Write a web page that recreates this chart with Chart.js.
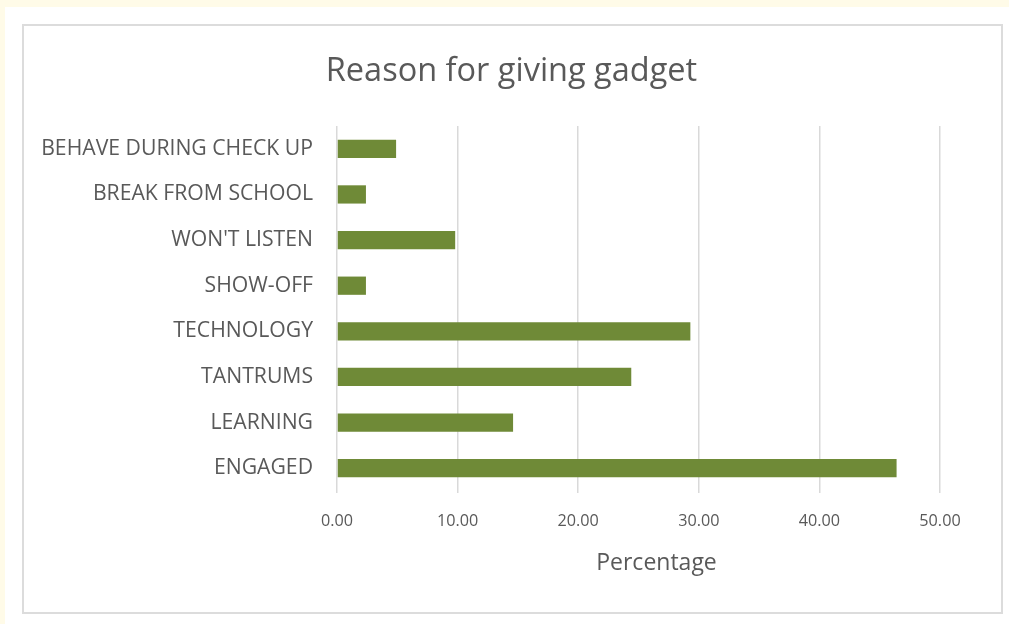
<!DOCTYPE html>
<html>
<head>
<meta charset="utf-8">
<script src="https://cdn.jsdelivr.net/npm/chart.js@4.4.1/dist/chart.umd.min.js"></script>
<style>
  html, body { margin: 0; padding: 0; }
  body { width: 1009px; height: 624px; background: #fffbe8; position: relative; overflow: hidden; }
  #sheet { position: absolute; left: 5px; top: 7px; right: 0; bottom: 0; background: #ffffff; }
  #frame { position: absolute; left: 22px; top: 24px; width: 977px; height: 586px; border: 2px solid #dcdcdc; background: #ffffff; filter: blur(0.5px); }
  #wrap { position: absolute; left: 0; top: 0; width: 1009px; height: 624px; }
  #chart { filter: blur(0.4px); }
</style>
</head>
<body>
<div id="sheet"></div>
<div id="frame"></div>
<div id="wrap"><canvas id="chart" width="1009" height="624"></canvas></div>
<script>
// Reasons parents give a gadget to their child, share of respondents (%)
const categories = [
  "BEHAVE DURING CHECK UP",
  "BREAK FROM SCHOOL",
  "WON'T LISTEN",
  "SHOW-OFF",
  "TECHNOLOGY",
  "TANTRUMS",
  "LEARNING",
  "ENGAGED"
];
const percentages = [4.9, 2.4, 9.8, 2.4, 29.3, 24.4, 14.6, 46.4];
const xTicks = [0, 10, 20, 30, 40, 50];
const chartTitle = "Reason for giving gadget";
const xAxisTitle = "Percentage";

const textColor = "#595959";
const gridColor = "#d9d9d9";
const barColor = "#6f8a37";
const fontFamily = "'Open Sans', 'Liberation Sans', sans-serif";

// Chart title is centred on the whole frame, the axis title sits a little
// right of the plot centre, so both are painted here instead of by the
// built-in title plugin / scale title.
const frameTexts = {
  id: "frameTexts",
  afterDraw(chart) {
    const { ctx, chartArea } = chart;
    ctx.save();
    ctx.fillStyle = textColor;
    ctx.textAlign = "center";
    ctx.textBaseline = "middle";
    ctx.font = "32.5px " + fontFamily;
    ctx.fillText(chartTitle, 511.5, 72);
    ctx.font = "23px " + fontFamily;
    ctx.fillText(xAxisTitle, (chartArea.left + chartArea.right) / 2 + 18, 563);
    ctx.restore();
  }
};

new Chart(document.getElementById("chart"), {
  type: "bar",
  data: {
    labels: categories,
    datasets: [{
      data: percentages,
      backgroundColor: barColor,
      borderWidth: 0,
      barPercentage: 0.4,
      categoryPercentage: 1.0
    }]
  },
  options: {
    indexAxis: "y",
    responsive: false,
    animation: false,
    devicePixelRatio: 1,
    layout: { padding: { left: 30, right: 69, top: 126, bottom: 40 } },
    plugins: {
      legend: { display: false },
      tooltip: { enabled: false },
      title: { display: false }
    },
    scales: {
      x: {
        min: 0,
        max: 50,
        afterBuildTicks: (scale) => { scale.ticks = xTicks.map(v => ({ value: v })); },
        afterFit: (scale) => { scale.height = 93; },
        grid: { color: gridColor, lineWidth: 1.5, drawTicks: true, tickLength: 2 },
        border: { display: false },
        ticks: {
          color: textColor,
          font: { family: fontFamily, size: 16.2 },
          padding: 19,
          callback: (v) => Number(v).toFixed(2)
        }
      },
      y: {
        afterFit: (scale) => { scale.width = 307; },
        grid: { display: false },
        border: { display: false },
        ticks: {
          color: textColor,
          font: { family: fontFamily, size: 21.2 },
          padding: 16,
          autoSkip: false
        }
      }
    }
  },
  plugins: [frameTexts]
});
</script>
</body>
</html>
